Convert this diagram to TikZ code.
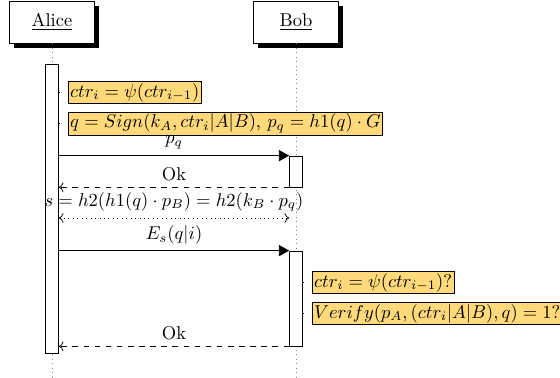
\documentclass[tikz,border=0pt]{standalone}
\usepackage{amsmath, amssymb}
\usepackage{tikz}
\usetikzlibrary{positioning, arrows.meta, shadows}
\definecolor{actionfill}{RGB}{255,217,122}
\tikzset{
  actor/.style={draw, fill=white, minimum width=45.9pt, minimum height=22.7pt,
    drop shadow={shadow xshift=2.55pt, shadow yshift=-2.45pt, fill=black, opacity=1}},
  lifeline/.style={dotted, gray},
  bar/.style={draw, fill=white, minimum width=7pt, inner sep=0pt},
  action/.style={draw, fill=actionfill, anchor=west, inner sep=1pt},
  call/.style={-{Triangle[length=5.5pt, width=6pt]}},
  reply/.style={dashed, ->},
  share/.style={dotted, <->}
}

\begin{document}
\begin{tikzpicture}[x=0.54pt, y=-0.54pt]
\useasboundingbox (0,0) rectangle (560,378);
\node[actor] (alice) at (52,22) {\underline{Alice}};
\node[actor] (bob) at (296,22) {\underline{Bob}};
\draw[lifeline] (alice.south) -- (alice.south |- 0,378);
\draw[lifeline] (bob.south) -- (bob.south |- 0,378);
\node[bar, minimum height=156pt] (abar) at (alice.south |- 0,208.5) {};
\node[bar, minimum height=16.7pt] (bbar1) at (bob.south |- 0,171.5) {};
\node[bar, minimum height=51.3pt] (bbar2) at (bob.south |- 0,298.5) {};
\node[action] (ctr) at (68,92.5) {$ctr_i = \psi(ctr_{i-1})$};
\node[action] (sign) at (68,123.5) {$q = Sign(k_A, ctr_i|A|B)$, $p_q = h1(q) \cdot G$};
\node[action] (check) at (312,282.5) {$ctr_i = \psi(ctr_{i-1})$?};
\node[action] (verify) at (312,313.5) {$Verify(p_A, (ctr_i|A|B), q) = 1$?};
\draw (abar.east |- ctr) -- ++(1.5,0);
\draw (abar.east |- sign) -- ++(1.5,0);
\draw (bbar2.east |- check) -- ++(1.5,0);
\draw (bbar2.east |- verify) -- ++(1.5,0);
\draw[call] (abar.east |- bbar1.north) -- node[above] {$p_q$} (bbar1.north west);
\draw[reply] (bbar1.south west) -- node[above] {Ok} (abar.east |- bbar1.south);
\coordinate (shared) at (0,218);
\draw[share] (abar.east |- shared) -- node[above] {$s = h2(h1(q) \cdot p_B) = h2(k_B \cdot p_q)$} (bbar1.west |- shared);
\draw[call] (abar.east |- bbar2.north) -- node[above] {$E_s(q|i)$} (bbar2.north west);
\draw[reply] (bbar2.south west) -- node[above] {Ok} (abar.east |- bbar2.south);
\end{tikzpicture}
\end{document}
